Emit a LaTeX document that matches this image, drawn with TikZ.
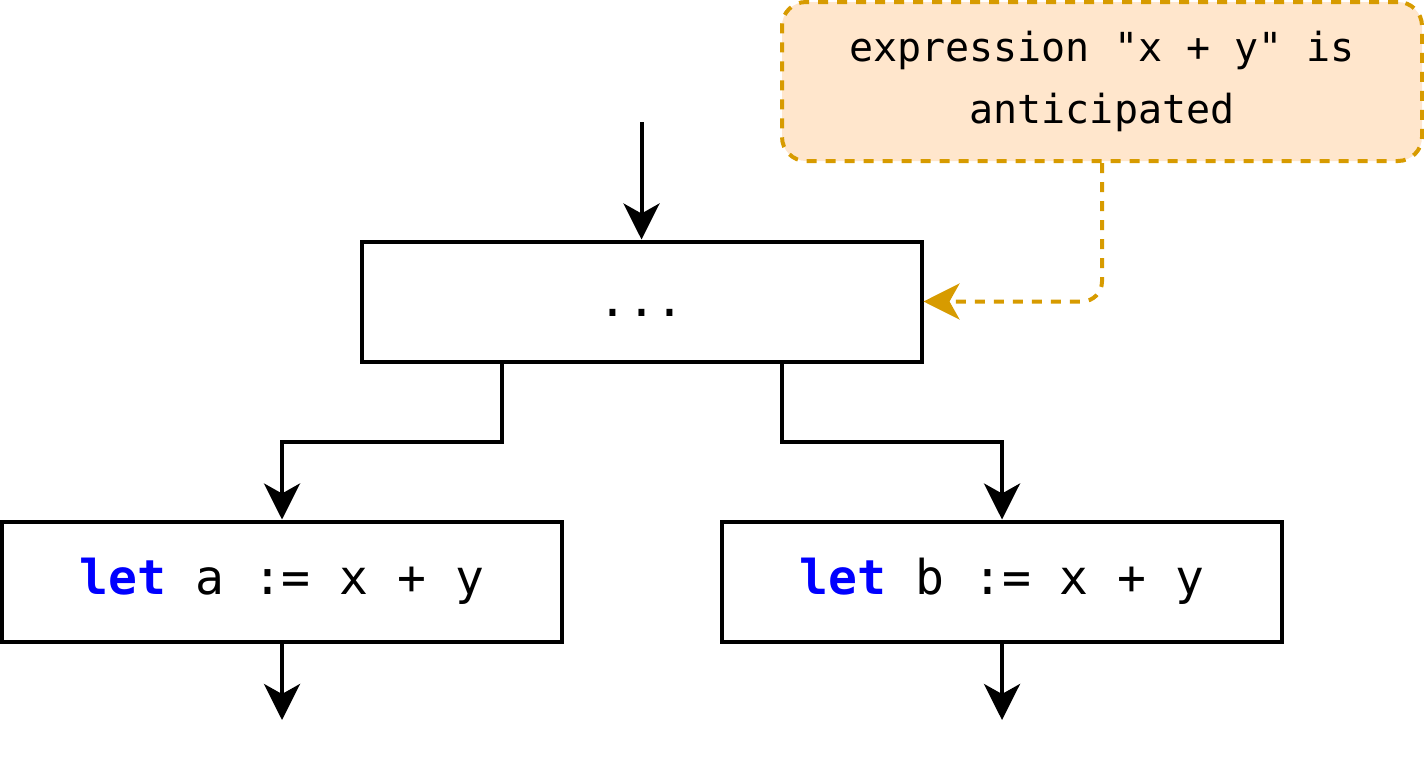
\documentclass[tikz,border=0pt]{standalone}
\usepackage{fontspec}
\setmonofont{DejaVu Sans Mono}
\usetikzlibrary{arrows.meta}
\definecolor{notefill}{HTML}{FFE6CC}
\definecolor{noteline}{HTML}{D79B00}
\definecolor{kwblue}{HTML}{0000FF}
\newcommand{\kw}[1]{\textcolor{kwblue}{\bfseries #1}}
\begin{document}
\begin{tikzpicture}[x=1pt,y=-1pt,
  block/.style={draw, line width=4pt, minimum width=560pt, minimum height=120pt,
    inner sep=0pt, font=\fontsize{48}{58}\selectfont\ttfamily},
  note/.style={draw=noteline, fill=notefill, line width=4pt, dash pattern=on 10pt off 9pt,
    rounded corners=24pt, minimum width=640pt, minimum height=159pt, inner sep=0pt,
    align=center, font=\fontsize{40}{62}\selectfont\ttfamily},
  tip/.style={-{Stealth[length=36pt,width=36pt,inset=10pt,#1]}},
  flow/.style={line width=4pt, tip={}},
  ann/.style={draw=noteline, line width=4pt, dash pattern=on 10pt off 9pt, rounded corners=20pt,
    tip={fill=noteline}}]
\useasboundingbox (0,0) rectangle (1424,756);

% blocks of the flow graph
\node[block] (top) at (641.5,301.5) {\vphantom{(}...};
\node[block] (left) at (282,581.5) {\kw{let} a := x + y};
\node[block] (right) at (1002,581.5) {\kw{let} b := x + y};

% annotation
\node[note] (note) at (1102,81.5) {expression "x + y" is\\anticipated};

% free ends
\coordinate (in) at (641.5,122);
\coordinate (lout) at (282,720);
\coordinate (rout) at (1002,720);

% edges
\draw[flow] (in) -- (top);
\draw[flow] ([xshift=-140pt]top.south) -- ++(0,78) -| (left.north);
\draw[flow] ([xshift=140pt]top.south) -- ++(0,78) -| (right.north);
\draw[flow] (left) -- (lout);
\draw[flow] (right) -- (rout);
\draw[ann] (note.south) |- (top.east);
\end{tikzpicture}
\end{document}
